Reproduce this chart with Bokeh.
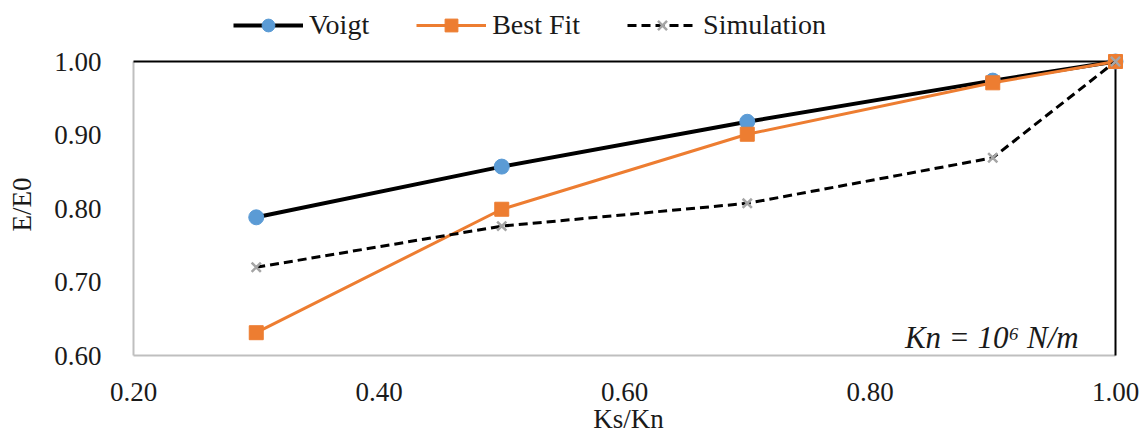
from bokeh.plotting import figure
from bokeh.layouts import column
from bokeh.models import (Range1d, FixedTicker, NumeralTickFormatter, Legend,
                          LegendItem, Label)
from bokeh.embed import file_html
from bokeh.resources import INLINE

ks_kn = [0.3, 0.5, 0.7, 0.9, 1.0]
voigt = [0.788, 0.857, 0.918, 0.974, 1.0]
best_fit = [0.631, 0.799, 0.901, 0.971, 1.0]
simulation = [0.720, 0.776, 0.807, 0.869, 1.0]
x_ticks = [0.2, 0.4, 0.6, 0.8, 1.0]
y_ticks = [0.6, 0.7, 0.8, 0.9, 1.0]
series_names = ["Voigt", "Best Fit", "Simulation"]
series_values = [voigt, best_fit, simulation]

FONT = "Liberation Serif"
TXT = "#1a1a1a"

STYLES = [
    dict(line=dict(line_color="black", line_width=4),
         marker=dict(marker="circle", size=15, fill_color="#5B9BD5", line_color="#5B9BD5")),
    dict(line=dict(line_color="#ED7D31", line_width=3),
         marker=dict(marker="square", size=14, fill_color="#ED7D31", line_color="#ED7D31")),
    dict(line=dict(line_color="black", line_width=3, line_dash="9 5"),
         marker=dict(marker="x", size=13, line_color="#a5a5a5", line_width=2.5)),
]

# axis box in pixels, plus small pads so the corner markers are not clipped
AXW, AXH = 982, 294
PL, PR, PT, PB = 2, 10, 10, 2
TOP_H = 42
xs, xe = x_ticks[0], x_ticks[-1]
ys, ye = y_ticks[0], y_ticks[-1]
dx = (xe - xs) / AXW
dy = (ye - ys) / AXH

p = figure(frame_width=AXW + PL + PR, frame_height=AXH + PT + PB, output_backend="svg",
           toolbar_location=None,
           x_range=Range1d(xs - PL * dx, xe + PR * dx), y_range=Range1d(ys - PB * dy, ye + PT * dy),
           min_border_left=131, min_border_right=18, min_border_top=51 - TOP_H,
           min_border_bottom=77)
p.background_fill_color = "white"
p.border_fill_color = "white"
p.outline_line_color = None
p.xgrid.grid_line_color = None
p.ygrid.grid_line_color = None

for ax in (p.xaxis[0], p.yaxis[0]):
    ax.major_tick_line_color = None
    ax.minor_tick_line_color = None
    ax.major_tick_out = 0
    ax.major_tick_in = 0
    ax.axis_line_color = None
    ax.major_label_text_font = FONT
    ax.major_label_text_font_size = "27px"
    ax.major_label_text_color = TXT
    ax.axis_label_text_font = FONT
    ax.axis_label_text_font_size = "27px"
    ax.axis_label_text_font_style = "normal"
    ax.axis_label_text_color = TXT
    ax.formatter = NumeralTickFormatter(format="0.00")

p.xaxis.ticker = FixedTicker(ticks=x_ticks)
p.yaxis.ticker = FixedTicker(ticks=y_ticks)
p.xaxis.axis_label = "Ks/Kn"
p.yaxis.axis_label = "E/E0"
p.xaxis.major_label_standoff = 25
p.xaxis.axis_label_standoff = 0
p.yaxis.major_label_standoff = 30
p.yaxis.axis_label_standoff = 14

# axis box: gray left/bottom, black top/right
p.segment(x0=[xs, xs], y0=[ys, ys], x1=[xe, xs], y1=[ys, ye], line_color="#bfbfbf", line_width=2)
p.segment(x0=[xs, xe], y0=[ye, ys], x1=[xe, xe], y1=[ye, ye], line_color="black", line_width=2)

for vals, st in zip(series_values, STYLES):
    p.line(ks_kn, vals, **st["line"])
    p.scatter(ks_kn, vals, **st["marker"])

p.add_layout(Label(x=0.97, y=ys + 1 * dy, text="Kn = 10\u2076 N/m",
                   text_align="right", text_baseline="bottom", text_font=FONT,
                   text_font_style="italic", text_font_size="31px", text_color=TXT))

# legend strip above the plot (its renderers lie outside its own view)
total_w = 131 + AXW + PL + PR + 18
lf = figure(frame_width=total_w, frame_height=TOP_H, output_backend="svg", toolbar_location=None,
            x_range=Range1d(-3, -2), y_range=Range1d(-3, -2), x_axis_type=None, y_axis_type=None,
            min_border_left=0, min_border_right=0, min_border_top=0, min_border_bottom=0)
lf.outline_line_color = None
lf.xgrid.grid_line_color = None
lf.ygrid.grid_line_color = None
items = []
for name, vals, st in zip(series_names, series_values, STYLES):
    r1 = lf.line(ks_kn, vals, **st["line"])
    r2 = lf.scatter(ks_kn, vals, **st["marker"])
    items.append(LegendItem(label=name, renderers=[r1, r2]))
lg = Legend(items=items, location=(233, 1), orientation="horizontal", glyph_width=70,
            glyph_height=32, label_standoff=6, spacing=47, padding=0, margin=0,
            border_line_color=None, background_fill_alpha=0, label_text_font=FONT,
            label_text_font_size="28px", label_text_color=TXT)
lf.add_layout(lg, "center")

layout = column(lf, p, spacing=0)
open("out.html", "w").write(file_html(layout, INLINE))
